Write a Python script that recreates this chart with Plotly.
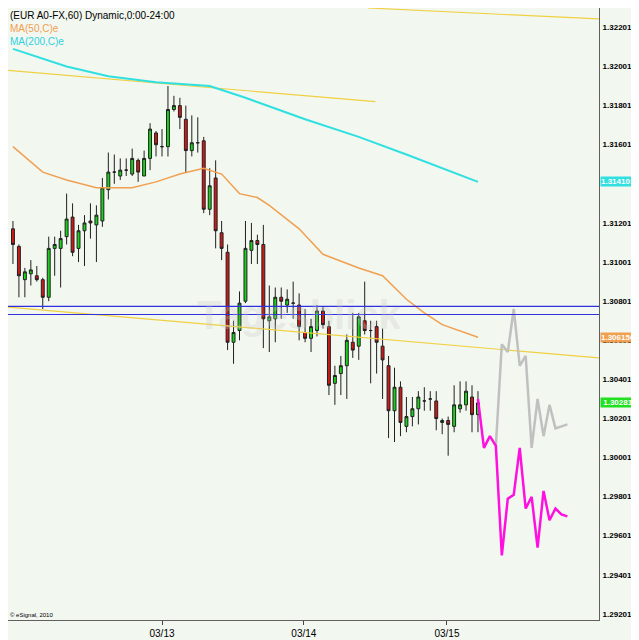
import plotly.graph_objects as go

# hourly candles, EUR/USD
opens = [1.3117, 1.3108, 1.3091, 1.3094, 1.3093, 1.3091, 1.3082, 1.3107, 1.3107, 1.3113,
         1.3123, 1.3107, 1.3116, 1.3121, 1.3119, 1.3121, 1.3137, 1.3146, 1.3144, 1.3147,
         1.3145, 1.3152, 1.3144, 1.3153, 1.3166, 1.3159, 1.3159, 1.3178, 1.3180, 1.3173,
         1.3157, 1.3161, 1.3162, 1.3127, 1.3143, 1.3115, 1.3105, 1.3059, 1.3065, 1.3080,
         1.3106, 1.3111, 1.3109, 1.3070, 1.3071, 1.3082, 1.3078, 1.3079, 1.3078, 1.3064,
         1.3061, 1.3065, 1.3075, 1.3067, 1.3038, 1.3043, 1.3047, 1.3059, 1.3057, 1.3070,
         1.3065, 1.3067, 1.3057, 1.3047, 1.3024, 1.3036, 1.3016, 1.3021, 1.3025, 1.3029,
         1.3030, 1.3029, 1.3018, 1.3019, 1.3016, 1.3025, 1.3027, 1.3031, 1.3022]
highs = [1.3121, 1.3109, 1.3097, 1.3101, 1.3098, 1.3092, 1.3113, 1.3113, 1.3116, 1.3135,
         1.3130, 1.3119, 1.3124, 1.3130, 1.3129, 1.3143, 1.3156, 1.3155, 1.3153, 1.3153,
         1.3158, 1.3153, 1.3157, 1.3171, 1.3167, 1.3168, 1.3190, 1.3185, 1.3184, 1.3180,
         1.3175, 1.3174, 1.3164, 1.3148, 1.3152, 1.3121, 1.3109, 1.3070, 1.3085, 1.3121,
         1.3120, 1.3114, 1.3119, 1.3088, 1.3087, 1.3087, 1.3086, 1.3090, 1.3084, 1.3076,
         1.3071, 1.3078, 1.3077, 1.3070, 1.3047, 1.3052, 1.3063, 1.3074, 1.3074, 1.3090,
         1.3070, 1.3070, 1.3066, 1.3052, 1.3046, 1.3039, 1.3031, 1.3031, 1.3034, 1.3036,
         1.3034, 1.3034, 1.3020, 1.3021, 1.3037, 1.3039, 1.3039, 1.3037, 1.3034]
lows = [1.3099, 1.3082, 1.3082, 1.3088, 1.3090, 1.3076, 1.3080, 1.3093, 1.3087, 1.3109,
        1.3103, 1.3100, 1.3098, 1.3112, 1.3100, 1.3118, 1.3132, 1.3140, 1.3142, 1.3144,
        1.3144, 1.3141, 1.3144, 1.3147, 1.3154, 1.3154, 1.3154, 1.3177, 1.3168, 1.3146,
        1.3154, 1.3156, 1.3125, 1.3124, 1.3107, 1.3101, 1.3055, 1.3048, 1.3060, 1.3079,
        1.3099, 1.3099, 1.3056, 1.3054, 1.3059, 1.3071, 1.3074, 1.3071, 1.3060, 1.3059,
        1.3054, 1.3062, 1.3066, 1.3032, 1.3027, 1.3032, 1.3030, 1.3051, 1.3050, 1.3063,
        1.3038, 1.3043, 1.3030, 1.3010, 1.3008, 1.3011, 1.3013, 1.3016, 1.3017, 1.3024,
        1.3024, 1.3014, 1.3012, 1.3001, 1.3013, 1.3023, 1.3024, 1.3013, 1.3013]
closes = [1.3109, 1.3093, 1.3095, 1.3096, 1.3091, 1.3082, 1.3107, 1.3109, 1.3112, 1.3122,
          1.3105, 1.3116, 1.3120, 1.3120, 1.3124, 1.3138, 1.3146, 1.3146, 1.3147, 1.3147,
          1.3153, 1.3146, 1.3153, 1.3168, 1.3160, 1.3159, 1.3178, 1.3180, 1.3174, 1.3157,
          1.3161, 1.3161, 1.3127, 1.3139, 1.3116, 1.3107, 1.3059, 1.3064, 1.3079, 1.3107,
          1.3111, 1.3109, 1.3071, 1.3072, 1.3082, 1.3080, 1.3081, 1.3079, 1.3067, 1.3061,
          1.3067, 1.3075, 1.3068, 1.3037, 1.3042, 1.3047, 1.3060, 1.3055, 1.3072, 1.3065,
          1.3065, 1.3059, 1.3050, 1.3024, 1.3036, 1.3018, 1.3021, 1.3025, 1.3031, 1.3029,
          1.3030, 1.3020, 1.3019, 1.3017, 1.3027, 1.3027, 1.3034, 1.3022, 1.3028]
bars = list(range(len(opens)))

ma50_x = [0, 5, 9, 14, 20, 24, 28, 32, 35, 38, 41, 43, 48, 52, 58, 62, 66, 69, 72, 78]
ma50_y = [1.3159, 1.3146, 1.3142, 1.3138, 1.3138, 1.3141, 1.3145, 1.3148, 1.3145, 1.3135,
          1.3133, 1.3129, 1.3117, 1.3104, 1.3097, 1.3093, 1.3081, 1.3074, 1.3068, 1.30616]
ma200_x = [0, 9, 16, 24, 33, 39, 49, 58, 66, 78]
ma200_y = [1.3209, 1.3200, 1.3195, 1.3192, 1.3190, 1.3184, 1.3173, 1.3164, 1.3155, 1.3141]

proj_pink_x = list(range(78, 94))
proj_pink_y = [1.3030, 1.3005, 1.3011, 1.3006, 1.2950, 1.2979, 1.2981, 1.3005, 1.2974, 1.2980,
               1.2954, 1.2983, 1.2968, 1.2974, 1.2971, 1.2970]
proj_grey_x = [81, 82, 83, 84, 85, 86, 87, 88, 89, 90, 91, 93]
proj_grey_y = [1.3006, 1.3058, 1.3054, 1.3076, 1.3047, 1.3052, 1.3005, 1.3030, 1.3011, 1.3027,
               1.3015, 1.3017]

# trend lines (start bar, end bar, start price, end price)
trend_lines = [(-0.8, 60.8, 1.3198, 1.3182), (59.5, 98.3, 1.32299, 1.32243),
               (-0.8, 98.3, 1.3077, 1.3051)]
h_lines = [1.30773, 1.30732]

tick_vals = [1.292013 + 0.002 * i for i in range(16)]
date_ticks = [25, 48.8, 72.8]
date_labels = ["03/13", "03/14", "03/15"]

fig = go.Figure()
fig.add_trace(go.Candlestick(
    x=bars, open=opens, high=highs, low=lows, close=closes,
    increasing=dict(line=dict(color="#202020", width=1), fillcolor="#18d418"),
    decreasing=dict(line=dict(color="#202020", width=1), fillcolor="#d01818"),
    whiskerwidth=0, showlegend=False, hoverinfo="skip"))
for x0, x1, y0, y1 in trend_lines:
    fig.add_trace(go.Scatter(x=[x0, x1], y=[y0, y1], mode="lines",
                             line=dict(color="#f0d040", width=1.2), showlegend=False))
for h in h_lines:
    fig.add_hline(y=h, line=dict(color="#3030e0", width=1.2))
fig.add_trace(go.Scatter(x=ma50_x, y=ma50_y, mode="lines", line=dict(color="#f0a050", width=1.5), showlegend=False))
fig.add_trace(go.Scatter(x=ma200_x, y=ma200_y, mode="lines", line=dict(color="#30e0e0", width=2), showlegend=False))
fig.add_trace(go.Scatter(x=proj_grey_x, y=proj_grey_y, mode="lines", line=dict(color="#c0c0c0", width=2.5), showlegend=False))
fig.add_trace(go.Scatter(x=proj_pink_x, y=proj_pink_y, mode="lines", line=dict(color="#ff10e0", width=2.5), showlegend=False))

fig.update_layout(
    width=639, height=640, margin=dict(l=0, r=48, t=0, b=28),
    paper_bgcolor="#f2f7f0", plot_bgcolor="#f2f7f0",
    font=dict(family="Liberation Sans", size=10, color="black"),
    xaxis=dict(range=[-0.83, 98.3], rangeslider=dict(visible=False), showgrid=False, zeroline=False,
               tickvals=date_ticks, ticktext=date_labels, ticks="outside", ticklen=4,
               showline=True, linecolor="#606060", mirror=False),
    yaxis=dict(range=[1.2917, 1.32299], side="right", showgrid=False, zeroline=False,
               tickvals=tick_vals, ticktext=[f"<b>{v:.6f}</b>" for v in tick_vals], ticks="",
               ticklabelstandoff=1,
               tickfont=dict(size=8, color="black", family="Liberation Sans"),
               showline=True, linecolor="#606060"),
)

labels = [(1.314101, "1.314101", "#30e0e0"), (1.306156, "1.306156", "#f0a050"), (1.30281, " 1.30281 ", "#20e020")]
for y, t, c in labels:
    fig.add_annotation(x=1, xref="paper", y=y, yref="y", text=f"<b>{t}</b>", showarrow=False, xanchor="left",
                       bgcolor=c, font=dict(color="white", size=8, family="Liberation Sans"),
                       borderpad=0, xshift=1)

fig.add_annotation(x=0, y=1, xref="paper", yref="paper", xanchor="left", yanchor="top", showarrow=False,
                   text="(EUR A0-FX,60) Dynamic,0:00-24:00<br><span style='color:#f0a050'>MA(50,C)e</span>"
                        "<br><span style='color:#30d0e0'>MA(200,C)e</span>",
                   align="left", font=dict(size=10))
fig.add_annotation(x=0, y=0, xref="paper", yref="paper", xanchor="left", yanchor="bottom", showarrow=False,
                   text="© eSignal, 2010", font=dict(size=6))
fig.add_annotation(x=48, y=1.3073, showarrow=False, text="<b>Tagesblick</b>",
                   font=dict(size=40, color="rgba(200,200,200,0.3)"))

fig.write_html("out.html")
